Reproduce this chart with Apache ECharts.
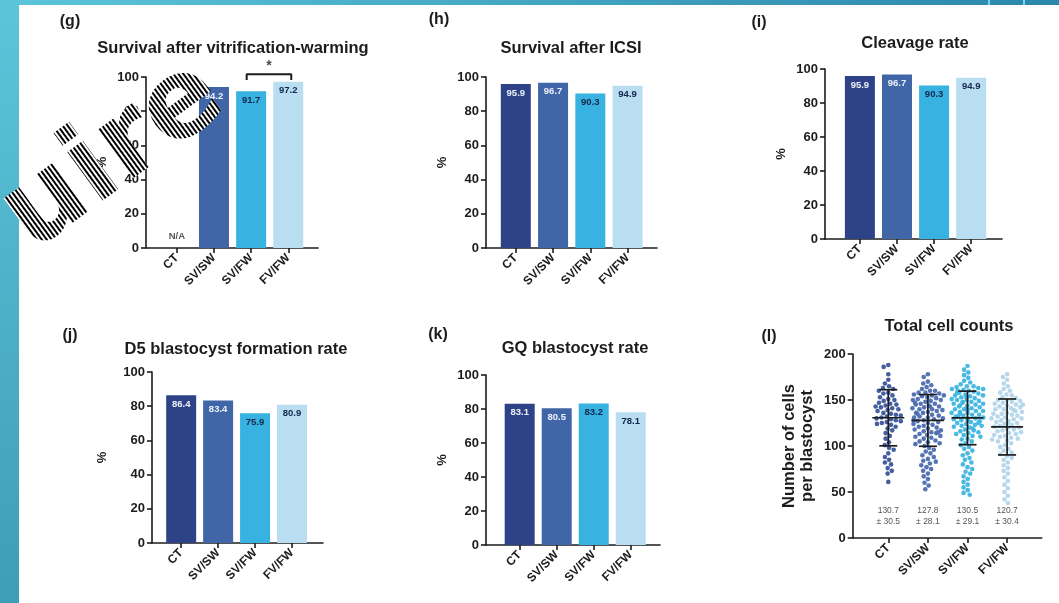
<!DOCTYPE html>
<html>
<head>
<meta charset="utf-8">
<script src="https://cdn.jsdelivr.net/npm/echarts@6/dist/echarts.min.js"></script>
<style>
  html, body { margin: 0; padding: 0; background: #ffffff; }
  #chart { width: 1059px; height: 603px; }
</style>
</head>
<body>
<div id="chart"></div>
<script>
// ---- data ----
const groups = ['CT', 'SV/SW', 'SV/FW', 'FV/FW'];
const percentTicks = [0, 20, 40, 60, 80, 100];
const cellTicks = [0, 50, 100, 150, 200];

const survivalVitri = [null, 94.2, 91.7, 97.2];
const survivalIcsi = [95.9, 96.7, 90.3, 94.9];
const cleavageRate = [95.9, 96.7, 90.3, 94.9];
const d5BlastRate = [86.4, 83.4, 75.9, 80.9];
const gqBlastRate = [83.1, 80.5, 83.2, 78.1];
const vitriSignificantPair = [2, 3];

const cellMean = [130.7, 127.8, 130.5, 120.7];
const cellSd = [30.5, 28.1, 29.1, 30.4];

const cellsCT = [188, 186, 178, 172, 168, 165, 163, 162, 160, 158, 157, 155, 153, 151, 150, 149, 147, 146, 145, 144,
  143, 142, 141, 140, 139, 138, 136, 135, 134, 133, 132, 131, 130, 129, 128, 127, 126, 125, 124, 123,
  121, 119, 117, 114, 111, 108, 104, 101, 98, 96, 92, 88, 85, 82, 80, 76, 73, 70, 61];
const cellsSVSW = [178, 175, 170, 168, 166, 164, 162, 160, 160, 158, 158, 157, 156, 155, 155, 154, 153, 152, 151, 150,
  150, 149, 148, 147, 146, 146, 145, 144, 143, 143, 142, 141, 140, 140, 139, 138, 137, 136, 136, 135,
  134, 133, 132, 131, 131, 130, 129, 128, 128, 127, 126, 125, 124, 123, 122, 121, 120, 119, 118, 117,
  116, 115, 115, 114, 113, 112, 111, 110, 109, 108, 106, 105, 104, 103, 102, 100, 98, 96, 94, 92,
  90, 88, 86, 84, 83, 81, 79, 77, 75, 73, 70, 67, 64, 60, 57, 53];
const cellsSVFW = [187, 183, 180, 177, 174, 171, 169, 167, 165, 165, 164, 163, 162, 162, 161, 160, 160, 159, 158, 158,
  157, 156, 155, 155, 154, 153, 153, 152, 151, 150, 150, 149, 148, 148, 147, 146, 146, 145, 144, 144,
  143, 142, 142, 141, 140, 140, 139, 138, 138, 137, 136, 136, 135, 134, 134, 133, 132, 132, 131, 130,
  130, 129, 128, 128, 127, 126, 125, 125, 124, 123, 122, 122, 121, 120, 119, 118, 117, 116, 115, 114,
  113, 112, 111, 110, 108, 107, 105, 103, 101, 99, 97, 95, 92, 90, 87, 85, 82, 80, 77, 75,
  72, 70, 67, 64, 61, 58, 55, 52, 49, 47];
const cellsFVFW = [178, 175, 172, 168, 165, 162, 160, 158, 156, 155, 153, 152, 150, 150, 149, 148, 147, 146, 145, 145,
  144, 143, 142, 141, 140, 140, 139, 138, 137, 136, 135, 135, 134, 133, 132, 131, 130, 130, 129, 128,
  127, 126, 125, 125, 124, 123, 122, 121, 120, 120, 119, 118, 117, 116, 115, 114, 113, 112, 111, 110,
  109, 108, 107, 106, 105, 103, 101, 99, 97, 95, 93, 91, 89, 87, 85, 82, 79, 76, 73, 70,
  66, 62, 58, 54, 50, 46, 42, 38];

// ---- styling ----
const FONT = "'Liberation Sans', Arial, Helvetica, sans-serif";
const INK = '#1c1c1c';
const groupColors = ['#2E4387', '#4166A8', '#38B3E1', '#B9DDF1'];
const dotColors = ['#3B559B', '#4C6DB0', '#3DB5E0', '#B3D5EA'];
const valueLabelColors = ['#EEF2FB', '#EEF2FB', '#12264E', '#12264E'];

const barPanels = [
  { letter: '(g)', title: 'Survival after vitrification-warming', values: survivalVitri,
    box: { left: 146, top: 77, width: 172, height: 171 }, xMin: -0.83, xMax: 3.8,
    titleAt: [233, 48], letterAt: [70, 22], nameGap: 37, sig: vitriSignificantPair },
  { letter: '(h)', title: 'Survival after ICSI', values: survivalIcsi,
    box: { left: 486, top: 77, width: 171, height: 171 }, xMin: -0.8, xMax: 3.79,
    titleAt: [571, 48], letterAt: [439, 20], nameGap: 37 },
  { letter: '(i)', title: 'Cleavage rate', values: cleavageRate,
    box: { left: 825, top: 69, width: 177, height: 170 }, xMin: -0.94, xMax: 3.83,
    titleAt: [915, 43], letterAt: [759, 23], nameGap: 37 },
  { letter: '(j)', title: 'D5 blastocyst formation rate', values: d5BlastRate,
    box: { left: 152, top: 372, width: 171, height: 171 }, xMin: -0.79, xMax: 3.84,
    titleAt: [236, 349], letterAt: [70, 336], nameGap: 43 },
  { letter: '(k)', title: 'GQ blastocyst rate', values: gqBlastRate,
    box: { left: 486, top: 375, width: 174, height: 170 }, xMin: -0.91, xMax: 3.79,
    titleAt: [575, 348], letterAt: [438, 335], nameGap: 37 }
];

const axisLineStyle = { color: INK, width: 1.6 };
const tickLabelFont = { fontFamily: FONT, fontWeight: 'bold', fontSize: 13, color: INK };
const catLabelFont = { fontFamily: FONT, fontWeight: 'bold', fontSize: 12, color: INK };

const grid = [], xAxis = [], yAxis = [], series = [], graphic = [];

function headerText(text, at, size, align) {
  return {
    type: 'text', x: at[0], y: at[1], z: 50,
    style: { text, fontFamily: FONT, fontWeight: 'bold', fontSize: size, fill: INK,
             align: align || 'center', verticalAlign: 'middle' }
  };
}

barPanels.forEach((p) => {
  const gi = grid.length;
  grid.push(Object.assign({ containLabel: false }, p.box));
  xAxis.push({
    type: 'value', gridIndex: gi, min: p.xMin, max: p.xMax,
    splitLine: { show: false },
    axisLine: { show: true, onZero: false, lineStyle: axisLineStyle },
    axisTick: { show: true, length: 5, lineStyle: axisLineStyle, customValues: groups.map((g, i) => i) },
    axisLabel: Object.assign({ customValues: groups.map((g, i) => i), rotate: 45, margin: 8,
      formatter: (v) => groups[Math.round(v)] }, catLabelFont)
  });
  yAxis.push({
    type: 'value', gridIndex: gi, min: percentTicks[0], max: percentTicks[percentTicks.length - 1],
    interval: percentTicks[1] - percentTicks[0],
    name: '%', nameLocation: 'middle', nameRotate: 90, nameGap: p.nameGap,
    nameTextStyle: { fontFamily: FONT, fontWeight: 'bold', fontSize: 13, color: INK },
    splitLine: { show: false },
    axisLine: { show: true, onZero: false, lineStyle: axisLineStyle },
    axisTick: { show: true, length: 5, lineStyle: axisLineStyle },
    axisLabel: Object.assign({ margin: 7 }, tickLabelFont)
  });
  const barData = [];
  p.values.forEach((v, i) => {
    if (v !== null) barData.push({ value: [i, v], groupIndex: i, label: { color: valueLabelColors[i] } });
  });
  series.push({
    type: 'bar', xAxisIndex: gi, yAxisIndex: gi, barWidth: 30, data: barData,
    itemStyle: { color: (prm) => groupColors[prm.data.groupIndex] },
    label: {
      show: true, position: 'insideTop', distance: 4,
      fontFamily: FONT, fontWeight: 'bold', fontSize: 9.5,
      formatter: (prm) => prm.value[1].toFixed(1)
    },
    silent: true
  });
  // groups with no measurement
  const missing = p.values.map((v, i) => (v === null ? [i, 0] : null)).filter(Boolean);
  if (missing.length) {
    series.push({
      type: 'scatter', xAxisIndex: gi, yAxisIndex: gi, symbolSize: 0, data: missing,
      label: { show: true, position: 'top', distance: 7, formatter: 'N/A',
        fontFamily: FONT, fontWeight: 'bold', fontSize: 9.5, color: '#2a2a2a' },
      silent: true
    });
  }
  // significance bracket between two groups
  if (p.sig) {
    const [a, b] = p.sig;
    const top = Math.max(p.values[a], p.values[b]);
    const yTop = top + 4.4, yFoot = top + 1;
    series.push({
      type: 'line', xAxisIndex: gi, yAxisIndex: gi, clip: false, symbol: 'none',
      data: [[a - 0.12, yFoot], [a - 0.12, yTop], [b + 0.08, yTop], [b + 0.08, yFoot]],
      lineStyle: { color: INK, width: 2 }, silent: true, z: 5
    });
    series.push({
      type: 'scatter', xAxisIndex: gi, yAxisIndex: gi, clip: false, symbolSize: 0,
      data: [[(a + b) / 2 - 0.02, yTop]],
      label: { show: true, position: 'top', distance: 1, formatter: '*',
        fontFamily: FONT, fontWeight: 'bold', fontSize: 14, color: INK },
      silent: true
    });
  }
  graphic.push(headerText(p.title, p.titleAt, 16.5));
  graphic.push(headerText(p.letter, p.letterAt, 16));
});

// ---- panel (l): scatter-dot plot of total cell counts ----
const lTop = 354, lHeight = 184;
const lScatterGrid = grid.length;
grid.push({ left: 868.5, top: lTop, width: 158.4, height: lHeight });
xAxis.push({
  type: 'category', gridIndex: lScatterGrid, data: groups, boundaryGap: true,
  jitter: 32, jitterOverlap: false, jitterMargin: 0.4,
  axisLine: { show: false },
  axisTick: { show: true, alignWithLabel: true, length: 5, lineStyle: axisLineStyle },
  axisLabel: Object.assign({ rotate: 45, margin: 8, interval: 0 }, catLabelFont),
  splitLine: { show: false }
});
yAxis.push({
  type: 'value', gridIndex: lScatterGrid, min: cellTicks[0], max: cellTicks[cellTicks.length - 1],
  interval: cellTicks[1] - cellTicks[0], offset: 15.8,
  name: 'Number of cells\nper blastocyst', nameLocation: 'middle', nameRotate: 90, nameGap: 36,
  nameTextStyle: { fontFamily: FONT, fontWeight: 'bold', fontSize: 16.5, color: INK, lineHeight: 18 },
  splitLine: { show: false },
  axisLine: { show: true, onZero: false, lineStyle: axisLineStyle },
  axisTick: { show: true, length: 5, lineStyle: axisLineStyle },
  axisLabel: Object.assign({ margin: 7 }, tickLabelFont)
});
// full-length baseline for panel (l)
const lBaseGrid = grid.length;
grid.push({ left: 852.7, top: lTop, width: 189, height: lHeight });
xAxis.push({
  type: 'value', gridIndex: lBaseGrid, min: 0, max: 1,
  axisLine: { show: true, onZero: false, lineStyle: axisLineStyle }, axisTick: { show: false },
  axisLabel: { show: false }, splitLine: { show: false }
});
yAxis.push({ type: 'value', gridIndex: lBaseGrid, min: 0, max: 200, show: false });

[cellsCT, cellsSVSW, cellsSVFW, cellsFVFW].forEach((vals, gi) => {
  series.push({
    type: 'scatter', xAxisIndex: lScatterGrid, yAxisIndex: lScatterGrid,
    symbolSize: 4.6, itemStyle: { color: dotColors[gi], opacity: 0.95 },
    data: vals.map((v) => [gi, v]), silent: true, z: 2
  });
});

series.push({
  type: 'custom', xAxisIndex: lScatterGrid, yAxisIndex: lScatterGrid, z: 6, silent: true,
  data: cellMean.map((m, i) => [i, m, cellSd[i]]),
  renderItem: (params, api) => {
    const i = api.value(0), m = api.value(1), sd = api.value(2);
    const c = api.coord([i, m]);
    const hi = api.coord([i, m + sd]);
    const lo = api.coord([i, m - sd]);
    const base = api.coord([i, 0]);
    const st = { stroke: INK, lineWidth: 1.7 };
    return {
      type: 'group',
      children: [
        { type: 'line', shape: { x1: c[0] - 16, y1: c[1], x2: c[0] + 16, y2: c[1] }, style: st },
        { type: 'line', shape: { x1: c[0], y1: hi[1], x2: c[0], y2: lo[1] }, style: st },
        { type: 'line', shape: { x1: c[0] - 9, y1: hi[1], x2: c[0] + 9, y2: hi[1] }, style: st },
        { type: 'line', shape: { x1: c[0] - 9, y1: lo[1], x2: c[0] + 9, y2: lo[1] }, style: st },
        { type: 'text', style: { text: m.toFixed(1) + '\n\u00b1 ' + sd.toFixed(1),
            x: c[0], y: base[1] - 33, align: 'center', verticalAlign: 'top',
            fontFamily: FONT, fontSize: 8.5, lineHeight: 11, fill: '#555555' } }
      ]
    };
  }
});
graphic.push(headerText('Total cell counts', [949, 326], 16.5));
graphic.push(headerText('(l)', [769, 337], 16));

// ---- page frame ----
graphic.push({
  type: 'rect', z: 0, shape: { x: 0, y: 0, width: 19, height: 603 },
  style: { fill: new echarts.graphic.LinearGradient(0, 0, 0, 1, [
    { offset: 0, color: '#5CC5DA' }, { offset: 1, color: '#3E9DB7' }]) }
});
graphic.push({
  type: 'rect', z: 0, shape: { x: 0, y: 0, width: 1059, height: 5 },
  style: { fill: new echarts.graphic.LinearGradient(0, 0, 1, 0, [
    { offset: 0, color: '#5CC5DA' }, { offset: 1, color: '#2C86AC' }]) }
});
graphic.push({ type: 'rect', z: 1, shape: { x: 988, y: 0, width: 2, height: 5 }, style: { fill: '#7BD3E8' } });
graphic.push({ type: 'rect', z: 1, shape: { x: 1023, y: 0, width: 2, height: 5 }, style: { fill: '#7BD3E8' } });

// ---- striped overlay lettering ----
// Drawn on its own layer: solid text first, then stripes composited only onto the glyphs.
const stripeCanvas = document.createElement('canvas');
stripeCanvas.width = 4; stripeCanvas.height = 4;
const sctx = stripeCanvas.getContext('2d');
sctx.fillStyle = '#ffffff'; sctx.fillRect(0, 0, 4, 4);
sctx.fillStyle = '#000000'; sctx.fillRect(0, 0, 2, 4);
const overlayLayer = 5;
graphic.push({
  type: 'group', x: 114, y: 157, rotation: 0.63, zlevel: overlayLayer,
  children: [
    { type: 'text', zlevel: overlayLayer, z: 1,
      style: { text: 'uire', fontFamily: "'DejaVu Sans', sans-serif", fontWeight: 'bold', fontSize: 110,
        align: 'center', verticalAlign: 'middle', fill: '#000000' } },
    { type: 'rect', zlevel: overlayLayer, z: 2, silent: true,
      shape: { x: -170, y: -100, width: 340, height: 200 },
      style: { fill: { image: stripeCanvas, repeat: 'repeat' }, blend: 'source-atop' } }
  ]
});

const chart = echarts.init(document.getElementById('chart'), null, { renderer: 'canvas' });
chart.setOption({
  animation: false,
  backgroundColor: '#ffffff',
  grid, xAxis, yAxis, series, graphic
});
</script>
</body>
</html>
